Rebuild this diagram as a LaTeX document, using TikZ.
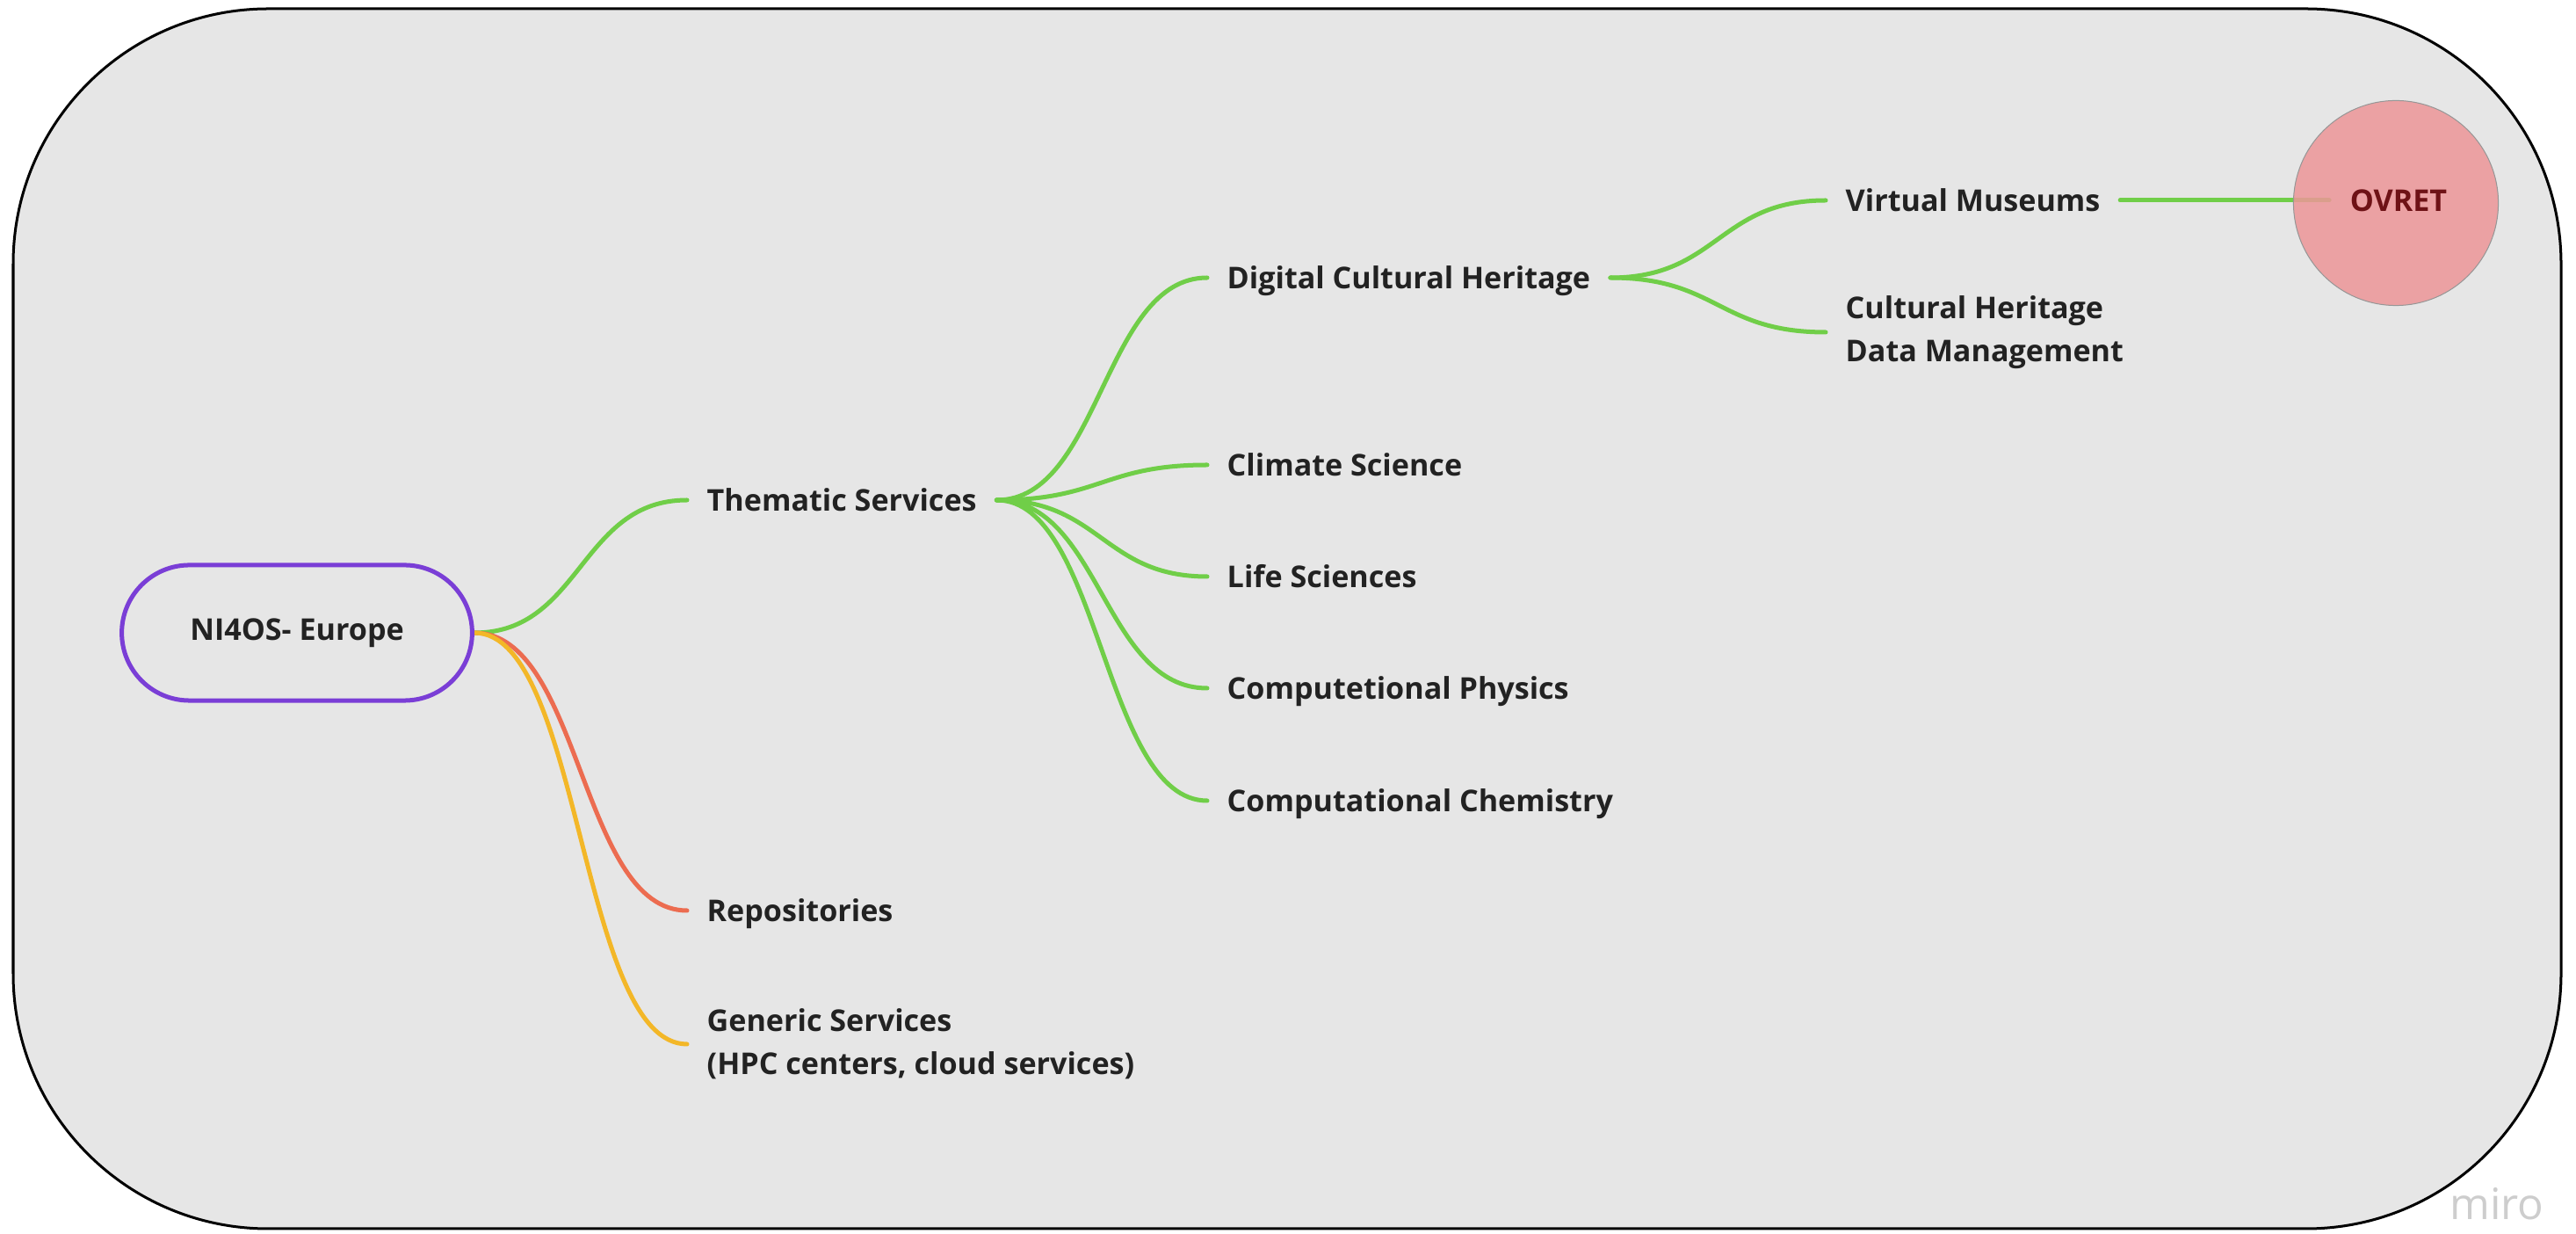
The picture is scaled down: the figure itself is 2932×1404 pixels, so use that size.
\documentclass[tikz,border=0pt]{standalone}
\usepackage{fontspec}
\setmainfont{Open Sans}
\usetikzlibrary{shapes.misc}

\definecolor{boardbg}{RGB}{230,230,230}
\definecolor{ink}{RGB}{34,34,34}
\definecolor{branchgreen}{RGB}{112,206,72}
\definecolor{branchred}{RGB}{236,108,80}
\definecolor{branchyellow}{RGB}{243,183,40}
\definecolor{rootpurple}{RGB}{122,62,214}
\definecolor{bubblefill}{RGB}{237,150,152}
\definecolor{bubbleline}{RGB}{150,150,150}
\definecolor{bubbleink}{RGB}{110,18,22}
\definecolor{watermark}{RGB}{205,205,205}

\pgfdeclarelayer{board}
\pgfdeclarelayer{links}
\pgfsetlayers{board,links,main}

\begin{document}
\begin{tikzpicture}[x=0.01cm,y=-0.01cm,
  labelfont/.style={font=\fontsize{9.7}{13.9}\selectfont\bfseries},
  txt/.style={labelfont, text=ink, inner xsep=0.22cm, inner ysep=0pt, anchor=west},
  topic/.style={txt, text height=8pt, text depth=1pt},
  topic2/.style={txt, align=left},
  link/.style={line width=0.05cm, line cap=round},
  curvy/.style={to path={.. controls +(#1,0) and +(-#1,0) .. (\tikztotarget)}}
]
\useasboundingbox (0,0) rectangle (2932,1404);

% board
\begin{pgfonlayer}{board}
  \fill[white] (0,0) rectangle (2932,1404);
  \draw[fill=boardbg, line width=0.03cm, rounded corners=2.9cm]
    (15,10) rectangle (2915,1398);
\end{pgfonlayer}

% root
\node[draw=rootpurple, line width=0.05cm, rounded rectangle, fill=boardbg,
      minimum width=4.22cm, minimum height=1.54cm,
      labelfont, text=ink] (root) at (338,720) {NI4OS- Europe};

% first level
\node[topic] (thematic) at (782,569) {Thematic Services};
\node[topic] (repos) at (782,1036) {Repositories};
\node[topic2] (generic) at (782,1188) {Generic Services\\(HPC centers, cloud services)};

% thematic services
\node[topic] (dch) at (1374,316) {Digital Cultural Heritage};
\node[topic] (climate) at (1374,529) {Climate Science};
\node[topic] (life) at (1374,656) {Life Sciences};
\node[topic] (phys) at (1374,783) {Computetional Physics};
\node[topic] (chem) at (1374,911) {Computational Chemistry};

% digital cultural heritage
\node[topic] (vm) at (2078,228) {Virtual Museums};
\node[topic2] (chdm) at (2078,378) {Cultural Heritage\\Data Management};

% OVRET bubble
\node[circle, draw=bubbleline, line width=0.01cm, fill=bubblefill, fill opacity=0.85,
      minimum size=2.33cm] (ovret) at (2727,231) {};
\node[labelfont, text=bubbleink,
      inner xsep=0.23cm, text height=8pt, text depth=1pt] (ovretlabel) at (2730,228) {OVRET};

% watermark
\node[font=\fontsize{14}{16}\selectfont, text=watermark] (wm) at (2842,1370) {miro};

% connectors
\begin{pgfonlayer}{links}
  \draw[link, branchgreen] (root.east) to[curvy=122] (thematic.west);
  \draw[link, branchred] (root.east) to[curvy=122] (repos.west);
  \draw[link, branchyellow] (root.east) to[curvy=122] (generic.west);

  \foreach \t in {dch,climate,life,phys,chem}
    \draw[link, branchgreen] (thematic.east) to[curvy=118] (\t.west);

  \draw[link, branchgreen] (dch.east) to[curvy=122] (vm.west);
  \draw[link, branchgreen] (dch.east) to[curvy=122] (chdm.west);

  \draw[link, branchgreen] (vm.east) -- (ovretlabel.west);
\end{pgfonlayer}
\end{tikzpicture}
\end{document}
